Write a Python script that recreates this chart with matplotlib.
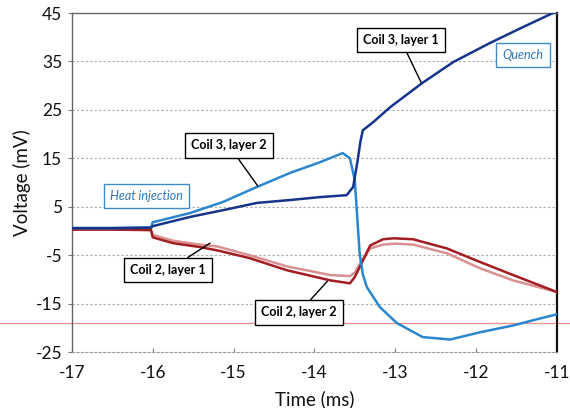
import matplotlib
matplotlib.use("Agg")
import matplotlib.pyplot as plt

# ---- data ----
t_c3l1 = [-17.0, -16.5, -16.02, -16.0, -15.54, -15.13, -14.71, -14.3, -13.93, -13.6, -13.52,
          -13.47, -13.43, -13.4, -13.27, -13.06, -12.67, -12.28, -11.83, -11.42, -11.05, -11.0]
v_c3l1 = [0.6, 0.6, 0.7, 1.0, 2.9, 4.3, 5.8, 6.4, 7.0, 7.4, 9.1,
          14.0, 18.5, 20.8, 22.5, 25.6, 30.5, 34.9, 38.8, 42.1, 45.0, 45.2]

t_c3l2 = [-17.0, -16.5, -16.02, -16.0, -15.54, -15.13, -14.71, -14.3, -13.93, -13.65, -13.56, -13.5,
          -13.44, -13.4, -13.35, -13.19, -12.98, -12.66, -12.32, -11.95, -11.54, -11.29, -11.0]
v_c3l2 = [0.6, 0.6, 0.7, 1.8, 3.7, 6.0, 9.1, 12.0, 14.2, 16.1, 15.0, 10.5,
          -4.6, -9.0, -11.6, -15.7, -19.0, -21.9, -22.4, -20.9, -19.5, -18.4, -17.2]

t_c2l1 = [-17.0, -16.5, -16.02, -16.0, -15.75, -15.42, -15.2, -14.8, -14.34, -13.8, -13.56, -13.5, -13.44,
          -13.31, -13.15, -13.0, -12.78, -12.36, -11.95, -11.54, -11.0]
v_c2l1 = [0.3, 0.3, 0.2, -0.8, -2.0, -2.8, -3.2, -5.0, -7.3, -9.1, -9.3, -8.6, -6.8,
          -3.6, -2.8, -2.6, -2.8, -4.6, -7.7, -10.2, -12.6]

t_c2l2 = [-17.0, -16.5, -16.02, -16.0, -15.75, -15.42, -15.2, -14.8, -14.34, -13.8, -13.56, -13.5, -13.44,
          -13.31, -13.15, -13.02, -12.78, -12.36, -11.95, -11.54, -11.0]
v_c2l2 = [0.3, 0.3, 0.2, -1.3, -2.5, -3.3, -4.0, -5.6, -8.1, -10.2, -10.8, -9.5, -7.5,
          -3.0, -1.7, -1.5, -1.7, -3.6, -6.4, -9.1, -12.6]

x_ticks = [-17, -16, -15, -14, -13, -12, -11]
y_ticks = [-25, -15, -5, 5, 15, 25, 35, 45]

FONT = ["Lato", "DejaVu Sans"]
plt.rcParams["font.family"] = FONT

fig = plt.figure(figsize=(5.7, 4.08), dpi=100)
ax = fig.add_axes([0.126, 0.137, 0.851, 0.831])

ax.set_xlim(-17, -11)
ax.set_ylim(-25, 45)
ax.set_xticks(x_ticks)
ax.set_yticks(y_ticks)
ax.set_xticklabels([str(v) for v in x_ticks], fontsize=12.5, color="#111111")
ax.set_yticklabels([str(v) for v in y_ticks], fontsize=12.5, color="#111111")
ax.tick_params(axis="x", length=3, direction="in", color="#777777", pad=9)
ax.tick_params(axis="y", length=3, direction="out", color="#777777", pad=4)

for y in [-15, -5, 5, 15, 25, 35]:
    ax.axhline(y, color="#aaaaaa", lw=0.8, ls=(0, (2, 2)), zorder=0)

for s in ["left", "top"]:
    ax.spines[s].set_color("#666666")
    ax.spines[s].set_linewidth(1.0)
ax.spines["bottom"].set_color("#999999")
ax.spines["bottom"].set_linestyle((0, (2, 2)))
ax.spines["right"].set_color("#111111")
ax.spines["right"].set_linewidth(1.6)

ax.set_xlabel("Time (ms)", fontsize=13.5, labelpad=7, color="#111111")
ax.set_ylabel("Voltage (mV)", fontsize=13.5, labelpad=3, color="#111111")

ax.plot(t_c2l1, v_c2l1, color="#d99090", lw=1.8, zorder=3)
ax.plot(t_c2l2, v_c2l2, color="#a11d22", lw=1.8, zorder=4)
ax.plot(t_c3l2, v_c3l2, color="#2a86cf", lw=1.8, zorder=5)
ax.plot(t_c3l1, v_c3l1, color="#16358a", lw=1.8, zorder=6)

# red scan line across the page
ax.axhline(-18.9, xmin=-0.2, xmax=1.1, color="#f08c8c", lw=0.9, clip_on=False, zorder=1)

black_box = dict(boxstyle="square,pad=0.5", fc="white", ec="black", lw=1.0)
blue_box = dict(boxstyle="square,pad=0.5", fc="white", ec="#3d8bc9", lw=1.0)

def label(text, xy, xytext):
    ax.annotate(text, xy=xy, xytext=xytext, fontsize=9, fontweight="bold",
                ha="center", va="center", bbox=black_box, zorder=10,
                arrowprops=dict(arrowstyle="-", color="black", lw=1.0, shrinkA=0, shrinkB=0))

label("Coil 3, layer 2", (-14.7, 9.3), (-15.06, 17.7))
label("Coil 3, layer 1", (-12.68, 30.7), (-12.93, 39.4))
label("Coil 2, layer 1", (-15.29, -2.5), (-15.81, -8.1))
label("Coil 2, layer 2", (-13.84, -10.4), (-14.19, -16.8))

ax.text(-16.08, 7.2, "Heat injection", fontsize=9, style="italic", color="#2e75b6",
        ha="center", va="center", bbox=blue_box, zorder=10)
ax.text(-11.42, 36.3, "Quench", fontsize=9, style="italic", color="#2e75b6",
        ha="center", va="center", bbox=blue_box, zorder=10)

fig.savefig("out.png", dpi=100)
